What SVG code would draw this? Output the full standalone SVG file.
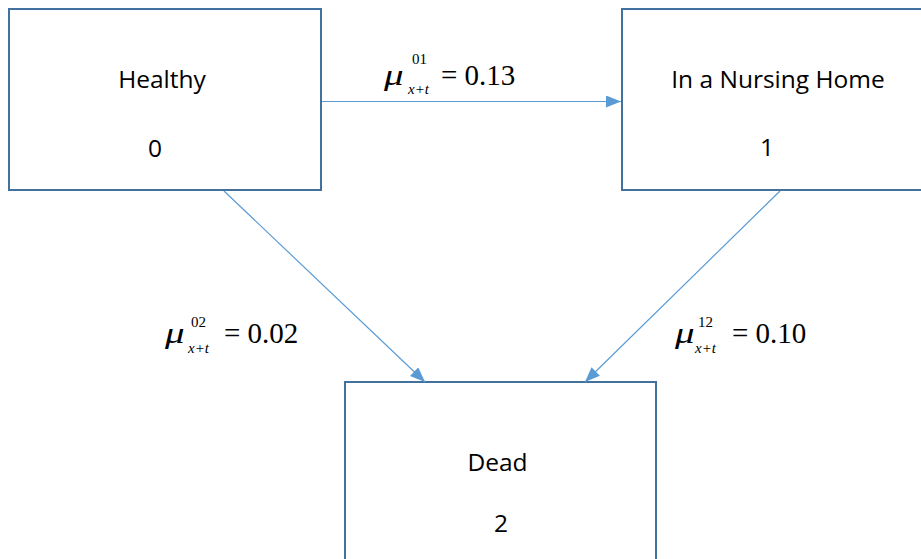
<svg xmlns="http://www.w3.org/2000/svg" width="921" height="559" viewBox="0 0 921 559">
<style>
.box{fill:#ffffff;stroke:#41719c;stroke-width:2}
.lbl{font-family:"Open Sans","Liberation Sans",sans-serif;font-size:24.5px;fill:#000;text-anchor:middle}
.conn{stroke:#5b9bd5;stroke-width:1.2;fill:none}
</style>
<defs>
<marker id="ah" markerUnits="userSpaceOnUse" markerWidth="16" markerHeight="12" refX="15" refY="6" orient="auto">
<path d="M0,0 L15,6 L0,12 Z" fill="#5b9bd5"/>
</marker>
</defs>
<g id="node-healthy">
<rect class="box" x="9" y="9" width="312" height="181"/>
<text class="lbl" x="162" y="88">Healthy</text>
<text class="lbl" x="155" y="157">0</text>
</g>
<g id="node-nursing">
<rect class="box" x="622" y="9" width="310" height="181"/>
<text class="lbl" x="778" y="88">In a Nursing Home</text>
<text class="lbl" x="767" y="156">1</text>
</g>
<g id="node-dead">
<rect class="box" x="345" y="382" width="311" height="190"/>
<text class="lbl" x="497.5" y="471">Dead</text>
<text class="lbl" x="501" y="532">2</text>
</g>
<g id="connectors">
<line class="conn" x1="322" y1="101.5" x2="621" y2="101.5" marker-end="url(#ah)"/>
<line class="conn" x1="224" y1="191" x2="425" y2="382" marker-end="url(#ah)"/>
<line class="conn" x1="780" y1="191" x2="585" y2="382" marker-end="url(#ah)"/>
</g>
<g font-family="Liberation Serif, Times New Roman, serif" fill="#000">
<g id="label-01">
<text transform="translate(384,85) scale(1.3,1)" font-size="30" font-style="italic">μ</text>
<text x="412" y="64" font-size="15">01</text>
<text x="408" y="94" font-size="15" font-style="italic">x+t</text>
<text x="441" y="85" font-size="29">= 0.13</text>
</g>
<g id="label-02">
<text transform="translate(165,343) scale(1.3,1)" font-size="30" font-style="italic">μ</text>
<text x="191" y="327" font-size="15">02</text>
<text x="188" y="353" font-size="15" font-style="italic">x+t</text>
<text x="224" y="343" font-size="29">= 0.02</text>
</g>
<g id="label-12">
<text transform="translate(675,343) scale(1.3,1)" font-size="30" font-style="italic">μ</text>
<text x="698" y="327" font-size="15">12</text>
<text x="695" y="353" font-size="15" font-style="italic">x+t</text>
<text x="732" y="343" font-size="29">= 0.10</text>
</g>
</g>
</svg>
